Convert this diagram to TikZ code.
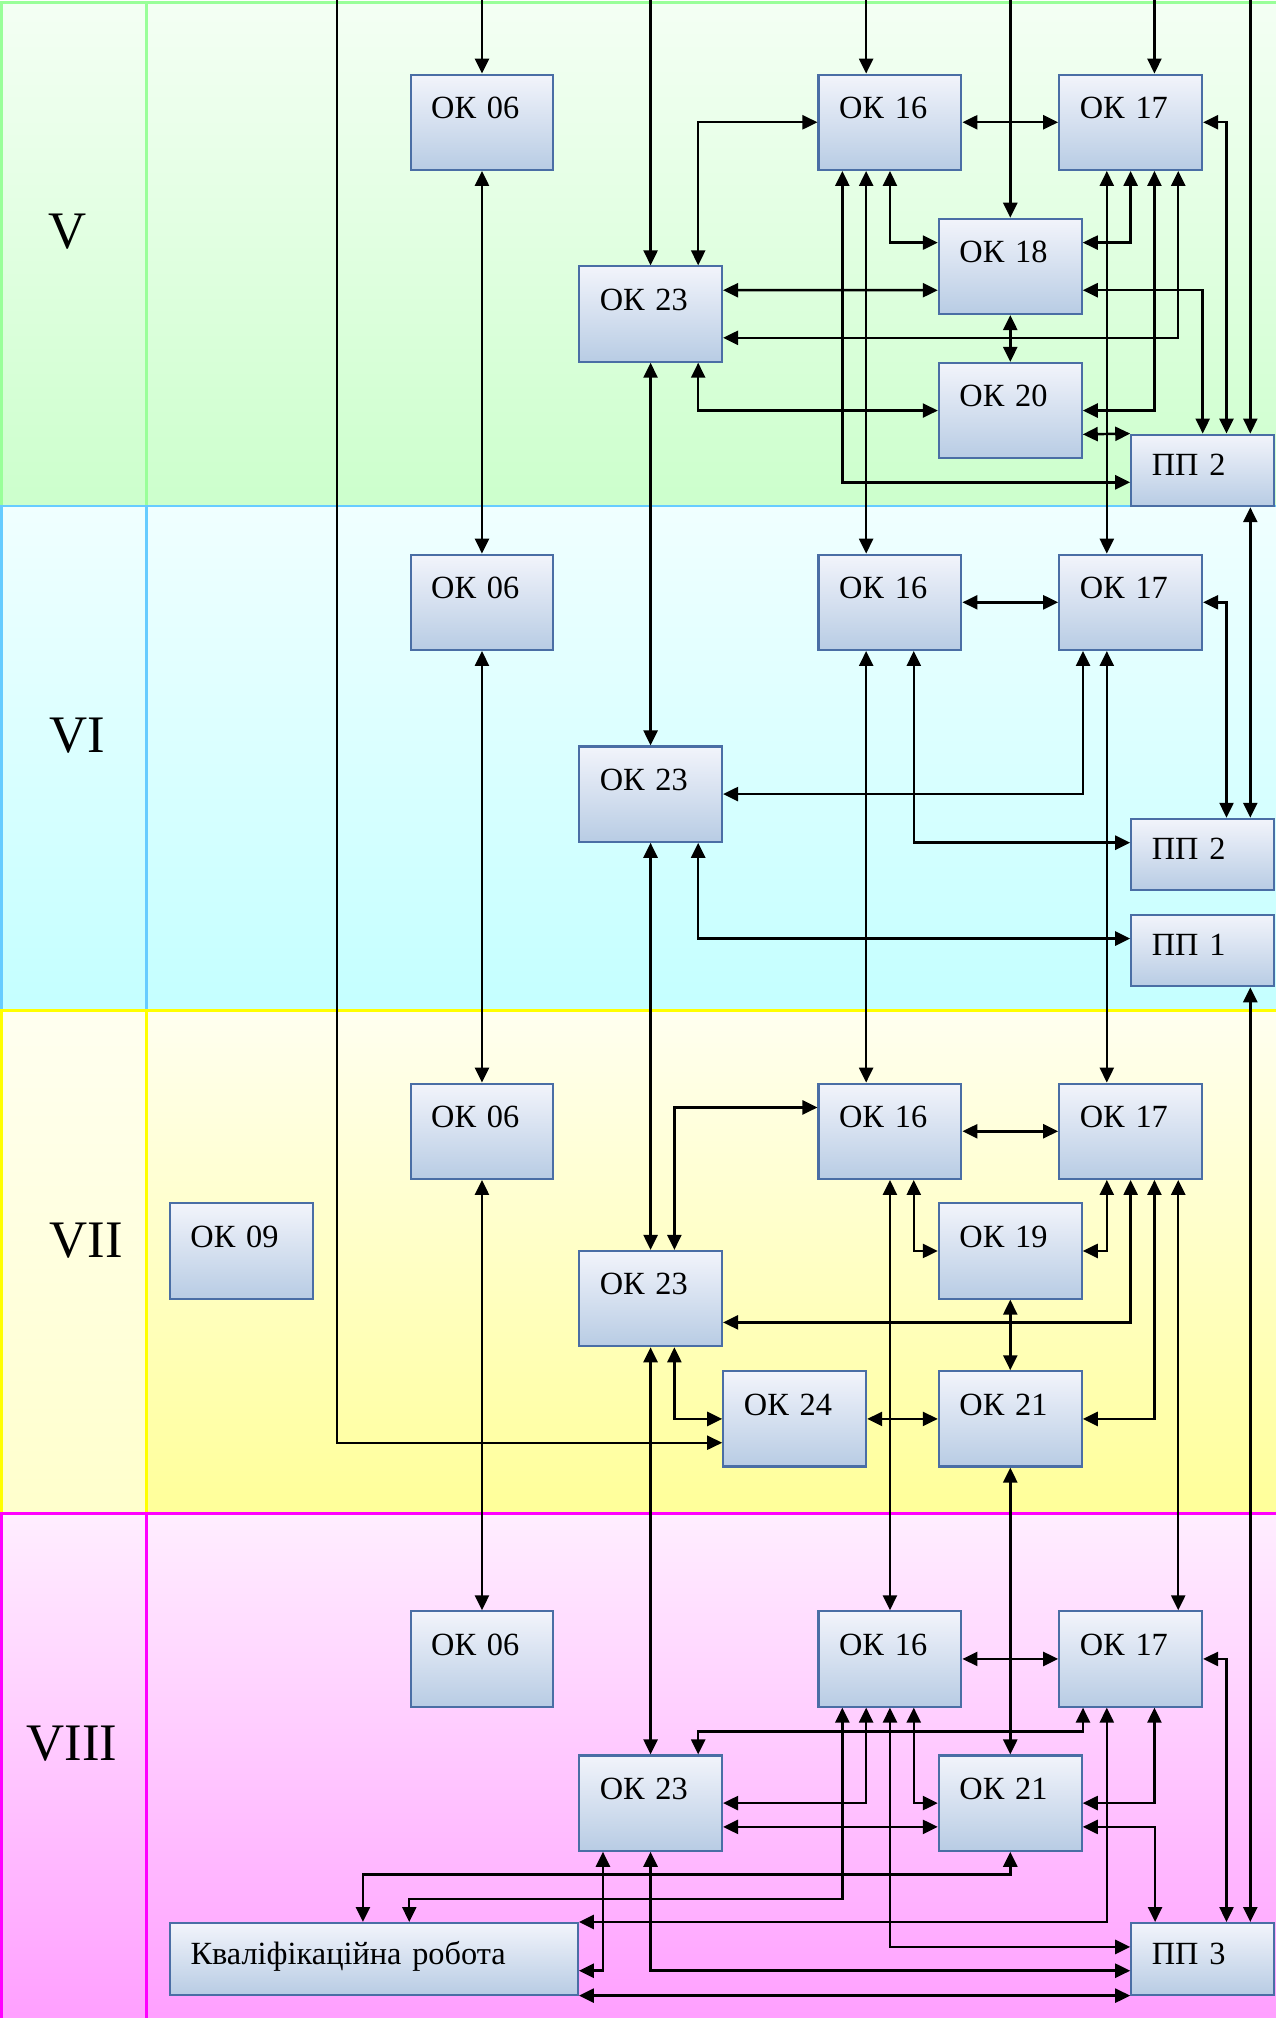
\documentclass[tikz,border=0pt]{standalone}
\usepackage{fontspec}
\setmainfont{Liberation Serif}
\usetikzlibrary{arrows.meta,calc}

\definecolor{boxtop}{HTML}{F2F4FB}
\definecolor{boxbot}{HTML}{B8CCE4}
\definecolor{boxline}{HTML}{4A6EA5}
\definecolor{vtop}{HTML}{F4FFF4}
\definecolor{vbot}{HTML}{CCFFCC}
\definecolor{vline}{HTML}{99FF99}
\definecolor{vitop}{HTML}{F0FFFF}
\definecolor{vibot}{HTML}{C4FFFF}
\definecolor{viline}{HTML}{66CCFF}
\definecolor{viitop}{HTML}{FFFFF0}
\definecolor{viibot}{HTML}{FFFF99}
\definecolor{viiside}{HTML}{FFFFCC}
\definecolor{viiline}{HTML}{FFFF00}
\definecolor{viiitop}{HTML}{FFEEFF}
\definecolor{viiibot}{HTML}{FF99FF}
\definecolor{viiiline}{HTML}{FF00FF}

\newcommand{\stp}{2.38mm}
\newcommand{\hstp}{1.19mm}

\begin{document}
\begin{tikzpicture}[x=0.12866mm,y=-0.12866mm,
                    >={Triangle[length=1.5mm,width=1.4mm]},
                    box/.style={draw=boxline,line width=0.6pt,top color=boxtop,bottom color=boxbot,
                      inner xsep=2.06mm,inner ysep=0pt,text width=10.16mm,align=left,
                      text height=4.4mm,text depth=5.12mm,font=\fontsize{9.2}{11}\selectfont},
                    pbox/.style={box,text height=4.1mm,text depth=3.05mm},
                    krbox/.style={pbox,text width=36.66mm},
                    term/.style={anchor=base west,inner sep=0pt,font=\fontsize{15}{18}\selectfont},
                    link/.style={<->,line width=0.7pt},
                    feed/.style={->,line width=0.7pt}]

  \useasboundingbox (0,0) rectangle (991,1568);

  % semester bands
  \shade[top color=vtop,bottom color=vbot] (1,2) rectangle (1000,393);
  \draw[vline,line width=0.7pt] (1,2) rectangle (114,393) (114,2) rectangle (1000,393);
  \shade[top color=vitop,bottom color=vibot] (1,393) rectangle (1000,785);
  \draw[viline,line width=0.7pt] (1,393) rectangle (114,785) (114,393) rectangle (1000,785);
  \shade[top color=viitop,bottom color=viiside] (1,785) rectangle (114,1176);
  \shade[top color=viitop,bottom color=viibot] (114,785) rectangle (1000,1176);
  \draw[viiline,line width=0.7pt] (1,785) rectangle (114,1176) (114,785) rectangle (1000,1176);
  \shade[top color=viiitop,bottom color=viiibot] (1,1176) rectangle (1000,1600);
  \draw[viiiline,line width=0.7pt] (1,1176) rectangle (114,1600) (114,1176) rectangle (1000,1600);

  \node[term] (s5) at (37,193) {V};
  \node[term] (s6) at (38,585) {VI};
  \node[term] (s7) at (38,977) {VII};
  \node[term] (s8) at (20,1368) {VIII};

  % semester V
  \node[box] (ok06-5) at (374.5,95) {ОК 06};
  \node[box] (ok16-5) at (691.5,95) {ОК 16};
  \node[box] (ok17-5) at (878.5,95) {ОК 17};
  \node[box] (ok18-5) at (785,207) {ОК 18};
  \node[box] (ok23-5) at (505.5,244) {ОК 23};
  \node[box] (ok20-5) at (785,319) {ОК 20};
  \node[pbox] (pp2-5) at (934.5,365.5) {ПП 2};

  % semester VI
  \node[box] (ok06-6) at (374.5,468) {ОК 06};
  \node[box] (ok16-6) at (691.5,468) {ОК 16};
  \node[box] (ok17-6) at (878.5,468) {ОК 17};
  \node[box] (ok23-6) at (505.5,617) {ОК 23};
  \node[pbox] (pp2-6) at (934.5,664) {ПП 2};
  \node[pbox] (pp1-6) at (934.5,738.5) {ПП 1};

  % semester VII
  \node[box] (ok06-7) at (374.5,879) {ОК 06};
  \node[box] (ok16-7) at (691.5,879) {ОК 16};
  \node[box] (ok17-7) at (878.5,879) {ОК 17};
  \node[box] (ok09-7) at (187.5,972) {ОК 09};
  \node[box] (ok19-7) at (785,972) {ОК 19};
  \node[box] (ok23-7) at (505.5,1009) {ОК 23};
  \node[box] (ok24-7) at (617.5,1102.5) {ОК 24};
  \node[box] (ok21-7) at (785,1102.5) {ОК 21};

  % semester VIII
  \node[box] (ok06-8) at (374.5,1289) {ОК 06};
  \node[box] (ok16-8) at (691.5,1289) {ОК 16};
  \node[box] (ok17-8) at (878.5,1289) {ОК 17};
  \node[box] (ok23-8) at (505.5,1401) {ОК 23};
  \node[box] (ok21-8) at (785,1401) {ОК 21};
  \node[krbox] (kr-8) at (290.5,1522) {Кваліфікаційна робота};
  \node[pbox] (pp3-8) at (934.5,1522) {ПП 3};

  \coordinate (top) at (0,0);
  \coordinate (in0) at (262,0);

  % incoming from above
  \draw[feed] (ok06-5.north |- top) -- (ok06-5.north);
  \draw[feed] (ok23-5.north |- top) -- (ok23-5.north);
  \draw[feed] ([xshift=-\stp]ok16-5.north |- top) -- ([xshift=-\stp]ok16-5.north);
  \draw[feed] (ok18-5.north |- top) -- (ok18-5.north);
  \draw[feed] ([xshift=\stp]ok17-5.north |- top) -- ([xshift=\stp]ok17-5.north);
  \draw[feed] ([xshift=2*\stp]pp2-5.north |- top) -- ([xshift=2*\stp]pp2-5.north);
  \draw[feed,line width=0.5pt] (in0) |- ([yshift=-\stp]ok24-7.west);

  % links V
  \draw[link] ([xshift=2*\stp]ok23-5.north) |- (ok16-5.west);
  \draw[link] (ok16-5) -- (ok17-5);
  \draw[link] ([xshift=-2*\stp]ok16-5.south) |- ([yshift=-\hstp]pp2-5.west);
  \draw[link] ([xshift=-\stp]ok16-5.south) -- ([xshift=-\stp]ok16-6.north);
  \draw[link] (ok16-5.south) |- ([yshift=\stp]ok18-5.west);
  \draw[link] ([yshift=\stp]ok23-5.east) -- ([yshift=-\stp]ok18-5.west);
  \draw[link] ([xshift=-\stp]ok17-5.south) -- ([xshift=-\stp]ok17-6.north);
  \draw[link] (ok17-5.south) |- ([yshift=\stp]ok18-5.east);
  \draw[link] ([xshift=\stp]ok17-5.south) |- (ok20-5.east);
  \draw[link] ([xshift=2*\stp]ok17-5.south) |- ([yshift=-\stp]ok23-5.east);
  \draw[link] (ok17-5.east) -| ([xshift=\stp]pp2-5.north);
  \draw[link] ([yshift=-\stp]ok18-5.east) -| (pp2-5.north);
  \draw[link] (ok18-5) -- (ok20-5);
  \draw[link] ([xshift=2*\stp]ok23-5.south) |- (ok20-5.west);
  \draw[link] ([yshift=-\stp]ok20-5.east) -- (pp2-5.north west);
  \draw[link] (ok23-5) -- (ok23-6);
  \draw[link] (ok06-5) -- (ok06-6);
  \draw[link] ([xshift=2*\stp]pp2-5.south) -- ([xshift=2*\stp]pp2-6.north);

  % links VI
  \draw[link] (ok16-6) -- (ok17-6);
  \draw[link] (ok17-6.east) -| ([xshift=\stp]pp2-6.north);
  \draw[link] ([xshift=-2*\stp]ok17-6.south) |- (ok23-6.east);
  \draw[link] ([xshift=-\stp]ok17-6.south) -- ([xshift=-\stp]ok17-7.north);
  \draw[link] ([xshift=-\stp]ok16-6.south) -- ([xshift=-\stp]ok16-7.north);
  \draw[link] ([xshift=\stp]ok16-6.south) |- ([yshift=\hstp]pp2-6.west);
  \draw[link] ([xshift=2*\stp]ok23-6.south) |- ([yshift=\hstp]pp1-6.west);
  \draw[link] (ok23-6) -- (ok23-7);
  \draw[link] (ok06-6) -- (ok06-7);
  \draw[link] ([xshift=2*\stp]pp1-6.south) -- ([xshift=2*\stp]pp3-8.north);

  % links VII
  \draw[link] ([xshift=\stp]ok23-7.north) |- ([yshift=\stp]ok16-7.west);
  \draw[link] (ok16-7) -- (ok17-7);
  \draw[link] (ok16-7) -- (ok16-8);
  \draw[link] ([xshift=\stp]ok16-7.south) |- (ok19-7.west);
  \draw[link] ([xshift=-\stp]ok17-7.south) |- (ok19-7.east);
  \draw[link] (ok17-7.south) |- ([yshift=-\stp]ok23-7.east);
  \draw[link] ([xshift=\stp]ok17-7.south) |- (ok21-7.east);
  \draw[link] ([xshift=2*\stp]ok17-7.south) -- ([xshift=2*\stp]ok17-8.north);
  \draw[link] (ok19-7) -- (ok21-7);
  \draw[link] ([xshift=\stp]ok23-7.south) |- (ok24-7.west);
  \draw[link] (ok24-7) -- (ok21-7);
  \draw[link] (ok21-7) -- (ok21-8);
  \draw[link] (ok23-7) -- (ok23-8);
  \draw[link] (ok06-7) -- (ok06-8);

  % links VIII
  \draw[link] (ok16-8) -- (ok17-8);
  \draw[link] (ok17-8.east) -| ([xshift=\stp]pp3-8.north);
  \draw[link] ([xshift=-2*\stp]ok17-8.south) -- ++(0pt,-\stp) -| ([xshift=2*\stp]ok23-8.north);
  \draw[link] ([xshift=-\stp]ok17-8.south) |- (kr-8.north east);
  \draw[link] ([xshift=\stp]ok17-8.south) |- (ok21-8.east);
  \draw[link] ([yshift=-\stp]ok21-8.east) -| ([xshift=-2*\stp]pp3-8.north);
  \draw[link] ([xshift=-2*\stp]ok16-8.south) |- ($(kr-8.north)+(27.5,-18)$) -- ($(kr-8.north)+(27.5,0)$);
  \draw[link] ([xshift=-\stp]ok16-8.south) |- (ok23-8.east);
  \draw[link] (ok16-8.south) |- ([yshift=\hstp]pp3-8.west);
  \draw[link] ([xshift=\stp]ok16-8.south) |- (ok21-8.west);
  \draw[link] ([yshift=-\stp]ok23-8.east) -- ([yshift=-\stp]ok21-8.west);
  \draw[link] (ok21-8.south) |- ($(kr-8.north)+(-8.5,-37)$) -- ($(kr-8.north)+(-8.5,0)$);
  \draw[link] ([xshift=-2*\stp]ok23-8.south) |- ([yshift=-\hstp]kr-8.east);
  \draw[link] (ok23-8.south) |- ([yshift=-\hstp]pp3-8.west);
  \draw[link] (kr-8.south east) -- (pp3-8.south west);
\end{tikzpicture}
\end{document}
